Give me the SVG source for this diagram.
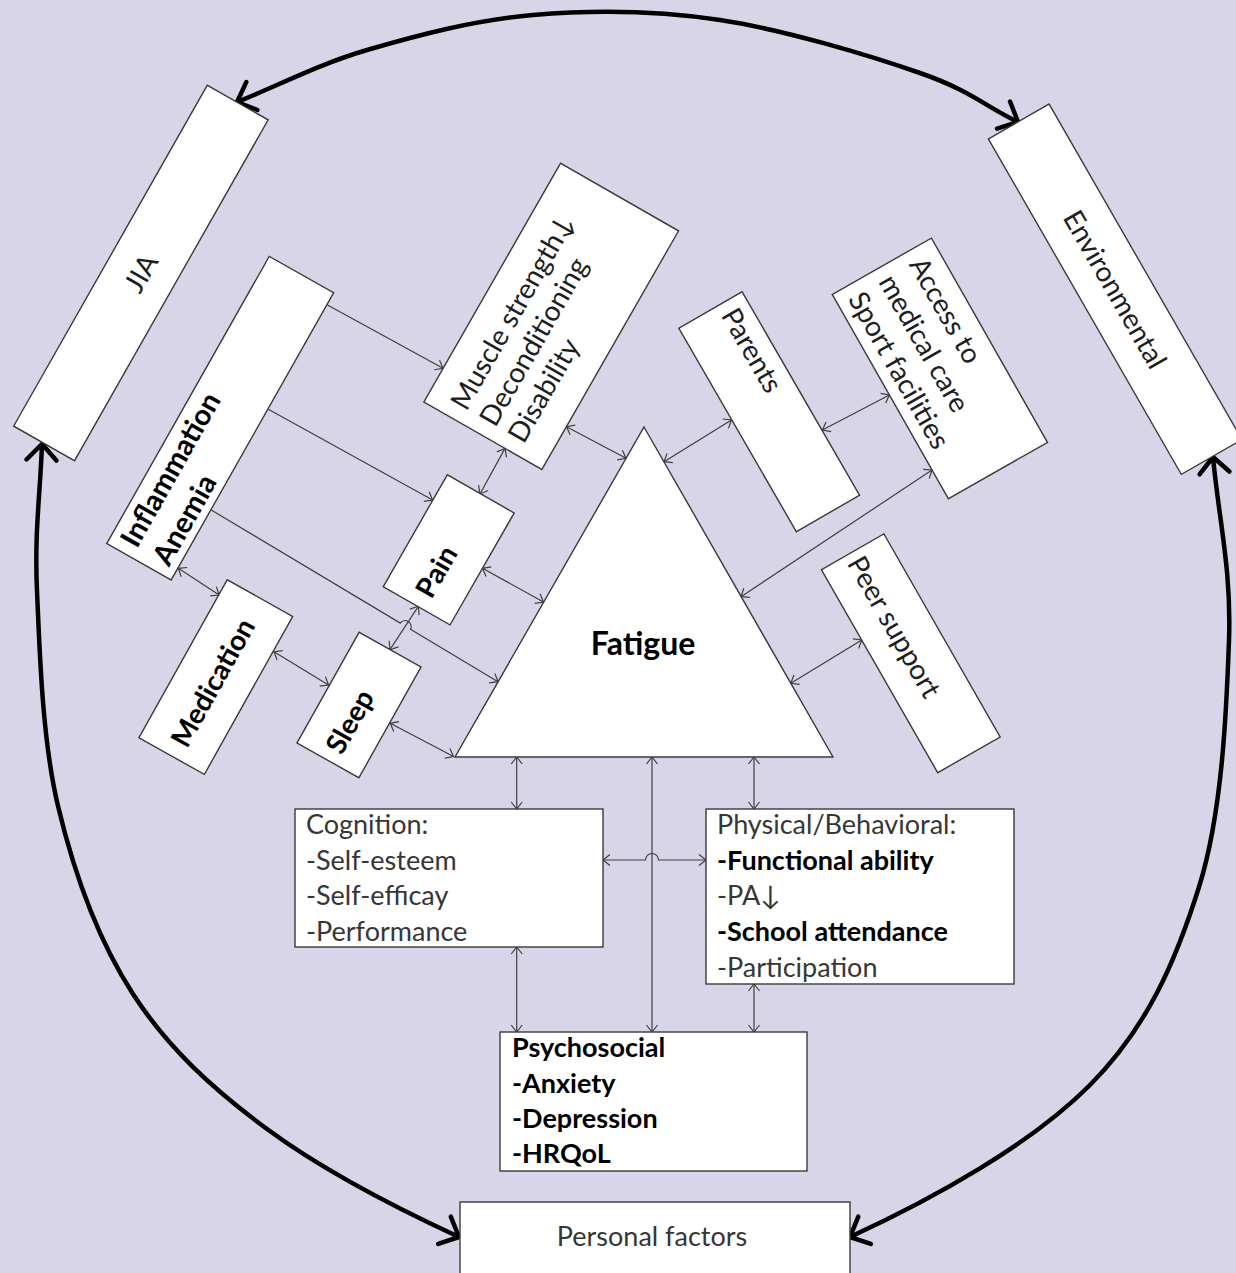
<svg xmlns="http://www.w3.org/2000/svg" width="1236" height="1273" viewBox="0 0 1236 1273">
<defs>
<style>
.box{fill:#fff;stroke:#3a3a3a;stroke-width:1.4}
.t{font-family:Lato,"Liberation Sans","DejaVu Sans",sans-serif;font-size:28px;fill:#1e1e1e}
.h{font-family:Lato,"Liberation Sans","DejaVu Sans",sans-serif;font-size:27px;fill:#363636}
.b{font-weight:bold;fill:#000}
.c{fill:none;stroke:#3f3f3f;stroke-width:1.2}
.k{fill:none;stroke:#000;stroke-width:4.5}
</style>
<marker id="ah" viewBox="-10 -8 12 16" refX="0" refY="0" markerWidth="12" markerHeight="16" markerUnits="userSpaceOnUse" orient="auto-start-reverse">
<path d="M-7,-5.5 L0,0 L-7,5.5" fill="none" stroke="#3f3f3f" stroke-width="1.2"/>
</marker>
<marker id="big" viewBox="-20 -18 24 36" refX="0" refY="0" markerWidth="24" markerHeight="36" markerUnits="userSpaceOnUse" orient="auto-start-reverse">
<path d="M-16,-15 L0,0 L-16,15" fill="none" stroke="#000" stroke-width="4.5" stroke-linecap="round" stroke-linejoin="round"/>
</marker>
</defs>
<rect x="0" y="0" width="1236" height="1273" fill="#D9D5E8"/>

<g id="connectors">
<path class="k" marker-start="url(#big)" marker-end="url(#big)" d="M237,102 C280.3,84.7 317.7,64.5 367,50 C416.3,35.5 474.2,20 533,15 C591.8,10 655.5,10.3 720,20 C784.5,29.7 870.3,55.8 920,73 C969.7,90.2 985.3,106.3 1018,122"/>
<path class="k" marker-start="url(#big)" marker-end="url(#big)" d="M42,444 C40.3,493.7 34.3,530.8 37,591 C39.7,651.2 42,738.8 58,806 C74,873.2 98.2,940.2 133,994 C167.8,1047.8 212.5,1088.7 267,1129 C321.5,1169.3 392,1206 459,1237"/>
<path class="k" marker-start="url(#big)" marker-end="url(#big)" d="M1213,457 C1219,521.3 1231.5,569.2 1229,640 C1226.5,710.8 1222.3,812.7 1199,887 C1175.7,961.3 1147.3,1027.8 1089,1086 C1030.7,1144.2 935,1198 850,1237"/>

<line class="c" marker-end="url(#ah)" x1="327.5" y1="305" x2="443" y2="368.3"/>
<line class="c" marker-end="url(#ah)" x1="268.3" y1="409.3" x2="432.6" y2="500"/>
<path class="c" marker-end="url(#ah)" d="M211.3,510 L400.3,623.1 A6,6 0 0 1 410.5,629.3 L498,681.7"/>
<line class="c" marker-start="url(#ah)" marker-end="url(#ah)" x1="505" y1="448.4" x2="480" y2="494"/>
<line class="c" marker-start="url(#ah)" marker-end="url(#ah)" x1="566.5" y1="426.7" x2="626" y2="458.3"/>
<line class="c" marker-start="url(#ah)" marker-end="url(#ah)" x1="482.5" y1="568.3" x2="543.5" y2="602"/>
<line class="c" marker-start="url(#ah)" marker-end="url(#ah)" x1="178.3" y1="568.3" x2="219.2" y2="595"/>
<line class="c" marker-start="url(#ah)" marker-end="url(#ah)" x1="274" y1="651.7" x2="328.5" y2="685"/>
<line class="c" marker-start="url(#ah)" marker-end="url(#ah)" x1="418.3" y1="606.3" x2="390" y2="649.7"/>
<line class="c" marker-start="url(#ah)" marker-end="url(#ah)" x1="390.2" y1="723.3" x2="453.5" y2="756.5"/>
<line class="c" marker-start="url(#ah)" marker-end="url(#ah)" x1="731.5" y1="420" x2="664" y2="461.7"/>
<line class="c" marker-start="url(#ah)" marker-end="url(#ah)" x1="822.4" y1="430" x2="889.4" y2="395"/>
<line class="c" marker-start="url(#ah)" marker-end="url(#ah)" x1="932" y1="470" x2="741" y2="596.7"/>
<line class="c" marker-start="url(#ah)" marker-end="url(#ah)" x1="861.8" y1="640" x2="790.8" y2="683.3"/>
<line class="c" marker-start="url(#ah)" marker-end="url(#ah)" x1="516.7" y1="757" x2="516.7" y2="809"/>
<line class="c" marker-start="url(#ah)" marker-end="url(#ah)" x1="754" y1="757" x2="754" y2="809"/>
<line class="c" marker-start="url(#ah)" marker-end="url(#ah)" x1="652" y1="757" x2="652" y2="1032"/>
<path class="c" marker-start="url(#ah)" marker-end="url(#ah)" d="M603,860 L645.5,860 A6.5,6.5 0 0 1 658.5,860 L706,860"/>
<line class="c" marker-start="url(#ah)" marker-end="url(#ah)" x1="516.7" y1="947" x2="516.7" y2="1032"/>
<line class="c" marker-start="url(#ah)" marker-end="url(#ah)" x1="754" y1="984" x2="754" y2="1032"/>
</g>

<g id="jia" transform="translate(140.9,273) rotate(-60.4)">
<rect class="box" x="-196" y="-35" width="392" height="70"/>
<text class="t" x="0" y="10" text-anchor="middle">JIA</text>
</g>
<g id="inflammation" transform="translate(220.2,418.2) rotate(-60.5)">
<rect class="box" x="-165" y="-37" width="330" height="74"/>
<text class="t b" x="-155" y="-8" style="font-size:29px">Inflammation</text>
<text class="t b" x="-155" y="29" style="font-size:29px">Anemia</text>
</g>
<g id="muscle" transform="translate(551.2,316.4) rotate(-60.2)">
<rect class="box" x="-137.5" y="-68" width="275" height="136"/>
<text class="t" x="-125" y="-26">Muscle strength↓</text>
<text class="t" x="-125" y="7">Deconditioning</text>
<text class="t" x="-125" y="40">Disability</text>
</g>
<g id="pain" transform="translate(448.7,549.8) rotate(-60.2)">
<rect class="box" x="-64.5" y="-38.5" width="129" height="77"/>
<text class="t b" x="-52" y="10">Pain</text>
</g>
<g id="medication" transform="translate(215.8,677.1) rotate(-60.8)">
<rect class="box" x="-90.5" y="-37.5" width="181" height="75"/>
<text class="t b" x="-77" y="10">Medication</text>
</g>
<g id="sleep" transform="translate(359,705) rotate(-60.7)">
<rect class="box" x="-63.5" y="-35.5" width="127" height="71"/>
<text class="t b" x="-53" y="10">Sleep</text>
</g>
<g id="parents" transform="translate(769.2,411.7) rotate(60)">
<rect class="box" x="-117.5" y="-36.5" width="235" height="73"/>
<text class="t" x="-108" y="-6">Parents</text>
</g>
<g id="access" transform="translate(939.9,368.4) rotate(60.4)">
<rect class="box" x="-117.5" y="-57" width="235" height="114"/>
<text class="t" x="-106" y="-24">Access to</text>
<text class="t" x="-106" y="11">medical care</text>
<text class="t" x="-106" y="46">Sport facilities</text>
</g>
<g id="environmental" transform="translate(1115.2,289.2) rotate(60.1)">
<rect class="box" x="-193.5" y="-35" width="387" height="70"/>
<text class="t" x="0" y="10" text-anchor="middle">Environmental</text>
</g>
<g id="peer" transform="translate(910.8,653.3) rotate(60.2)">
<rect class="box" x="-117" y="-36" width="234" height="72"/>
<text class="t" x="-110" y="11">Peer support</text>
</g>
<g id="fatigue">
<polygon class="box" points="644,427 833,757 455,757"/>
<text class="t b" x="643" y="655" text-anchor="middle" style="font-size:32px">Fatigue</text>
</g>
<g id="cognition">
<rect class="box" x="295" y="809" width="308" height="138"/>
<text class="h" x="306" y="834">Cognition:</text>
<text class="h" x="306" y="870">-Self-esteem</text>
<text class="h" x="306" y="905">-Self-efficay</text>
<text class="h" x="306" y="941">-Performance</text>
</g>
<g id="physical">
<rect class="box" x="706" y="809" width="308" height="175"/>
<text class="h" x="717" y="834">Physical/Behavioral:</text>
<text class="h b" x="717" y="870">-Functional ability</text>
<text class="h" x="717" y="905">-PA↓</text>
<text class="h b" x="717" y="941">-School attendance</text>
<text class="h" x="717" y="977">-Participation</text>
</g>
<g id="psychosocial">
<rect class="box" x="500" y="1032" width="307" height="139"/>
<text class="h b" x="512" y="1057">Psychosocial</text>
<text class="h b" x="512" y="1093">-Anxiety</text>
<text class="h b" x="512" y="1128">-Depression</text>
<text class="h b" x="512" y="1163">-HRQoL</text>
</g>
<g id="personal">
<rect class="box" x="460" y="1202" width="390" height="100"/>
<text class="h" x="652" y="1246" text-anchor="middle">Personal factors</text>
</g>
</svg>
